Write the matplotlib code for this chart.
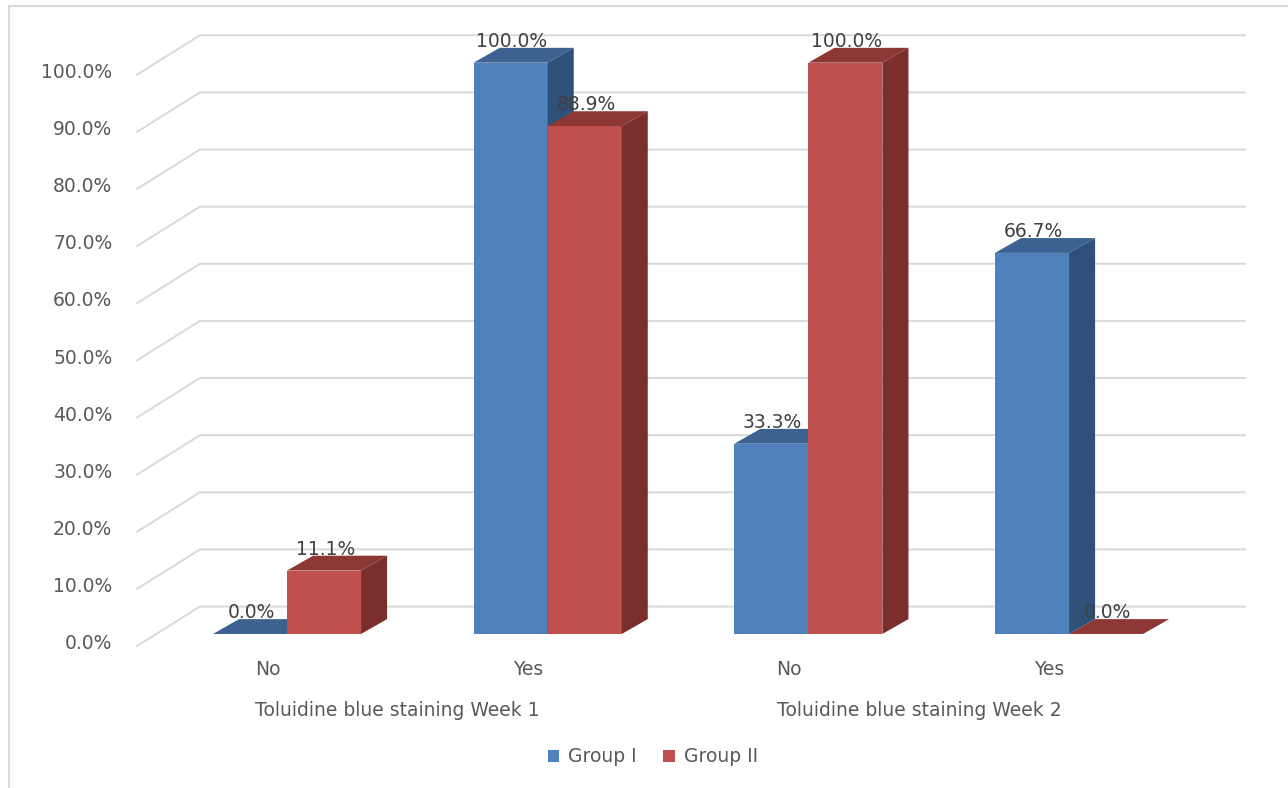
import matplotlib.pyplot as plt
from matplotlib.patches import Polygon, Patch
from matplotlib.lines import Line2D

# Data
groups = ['Toluidine blue staining Week 1', 'Toluidine blue staining Week 2']
answers = ['No', 'Yes', 'No', 'Yes']
series_names = ['Group I', 'Group II']
group1 = [0.0, 100.0, 33.3, 66.7]
group2 = [11.1, 88.9, 100.0, 0.0]
yticks = [0, 10, 20, 30, 40, 50, 60, 70, 80, 90, 100]

# colours: front, top, side
blue = ('#4f81bd', '#3b6291', '#2f5179')
red = ('#c0504d', '#8e3836', '#7b2f2d')

# fake 3d geometry (in data units: x = category index, y = percent)
bar_w = 0.284
ddx, ddy = 0.100, 2.6       # depth of each bar
wall_dy = 4.8               # back wall offset
front_dx, front_dy = -0.575, -2.1
back_dx = -0.334
grid_end = 3.675

fig = plt.figure(figsize=(12.88, 7.88), dpi=100)
ax = fig.add_axes([0, 0, 1, 1])
ax.set_xlim(-1.101, 3.840)
ax.set_ylim(-26.96, 110.97)
ax.axis('off')

# chart border
fig.add_artist(Line2D([9 / 1288, 9 / 1288], [0, 1 - 6 / 788], color='#d9d9d9', lw=1.5,
                      transform=fig.transFigure))
fig.add_artist(Line2D([9 / 1288, 1], [1 - 6 / 788, 1 - 6 / 788], color='#d9d9d9', lw=1.5,
                      transform=fig.transFigure))

# gridlines (diagonal floor edge + back wall)
for v in yticks:
    ax.plot([front_dx, back_dx, grid_end], [v + front_dy, v + wall_dy, v + wall_dy],
            color='#d9d9d9', lw=1.4, zorder=1)
    ax.text(front_dx - 0.095, v + front_dy + 0.4, f'{v:.1f}%', ha='right', va='center',
            fontsize=13.5, color='#595959')


def draw_bar(x0, v, cols):
    front = Polygon([(x0, 0), (x0 + bar_w, 0), (x0 + bar_w, v), (x0, v)],
                    closed=True, fc=cols[0], ec='none', zorder=3)
    top = Polygon([(x0, v), (x0 + bar_w, v), (x0 + bar_w + ddx, v + ddy), (x0 + ddx, v + ddy)],
                  closed=True, fc=cols[1], ec='none', zorder=3)
    side = Polygon([(x0 + bar_w, 0), (x0 + bar_w + ddx, ddy), (x0 + bar_w + ddx, v + ddy),
                    (x0 + bar_w, v)], closed=True, fc=cols[2], ec='none', zorder=3)
    for p in (front, top, side):
        ax.add_patch(p)
    ax.text(x0 + bar_w / 2 + 0.005, v + ddy - 0.5, f'{v:.1f}%', ha='center', va='bottom',
            fontsize=13.5, color='#404040', zorder=5)


for i in range(len(answers)):
    draw_bar(i - bar_w, group1[i], blue)
    draw_bar(i, group2[i], red)
    ax.text(i - 0.075, -6.3, answers[i], ha='center', va='center', fontsize=13.5, color='#595959')

for j, g in enumerate(groups):
    ax.text(2 * j + 0.5 - 0.075, -13.4, g, ha='center', va='center', fontsize=13.5, color='#595959')

handles = [Patch(fc=blue[0], ec='none'), Patch(fc=red[0], ec='none')]
fig.legend(handles, series_names, loc='center', bbox_to_anchor=(653 / 1288, 1 - 757 / 788),
           ncol=2, frameon=False, fontsize=13.5, handlelength=0.6, handleheight=0.6,
           handletextpad=0.5, columnspacing=1.4, labelcolor='#595959')

fig.savefig('out.png', dpi=100)
